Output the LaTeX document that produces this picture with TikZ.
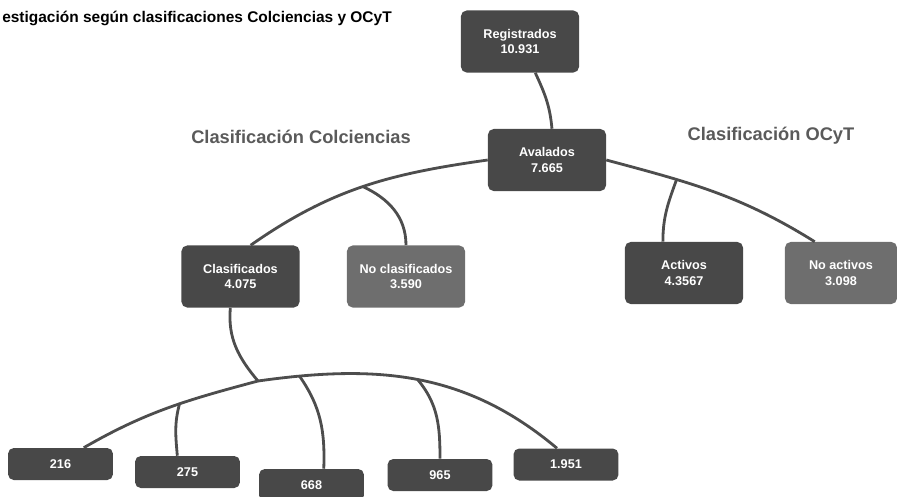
\documentclass[tikz,border=0pt]{standalone}
\usepackage{fontspec}
\setmainfont{Liberation Sans}
\usepackage{tikz}
\usetikzlibrary{positioning,calc}
\definecolor{boxdark}{HTML}{484848}
\definecolor{boxlight}{HTML}{6E6E6E}
\definecolor{linkgray}{HTML}{4D4D4D}
\definecolor{headgray}{HTML}{5A5A5A}

\begin{document}
\begin{tikzpicture}[x=0.025cm, y=0.025cm,
  box/.style={rectangle, rounded corners=4pt, fill=#1, text=white,
    minimum width=2.95cm, minimum height=1.55cm, align=center,
    font=\bfseries\fontsize{9}{10.8}\selectfont, inner sep=2pt},
  numbox/.style={box=boxdark, minimum width=2.62cm, minimum height=0.8cm},
  link/.style={draw=linkgray, line width=2pt},
  heading/.style={font=\bfseries\fontsize{13}{15}\selectfont, text=headgray}
]
\useasboundingbox (0,0) rectangle (897,-496);
\node[anchor=west, inner sep=0pt, font=\bfseries\fontsize{11}{13}\selectfont] (title) at (2,-18) {estigación según clasificaciones Colciencias y OCyT};
\node[heading] (hcol) at (301,-137) {Clasificación Colciencias};
\node[heading] (hocyt) at (771,-136) {Clasificación OCyT};

\node[box=boxdark] (reg) at (520,-41.5) {Registrados\\10.931};
\node[box=boxdark] (ava) at (547,-160) {Avalados\\7.665};
\node[box=boxdark] (cla) at (240.5,-276.5) {Clasificados\\4.075};
\node[box=boxlight] (nocla) at (406,-276.5) {No clasificados\\3.590};
\node[box=boxdark] (act) at (684,-273) {Activos\\4.3567};
\node[box=boxlight, minimum width=2.8cm] (noact) at (841,-273) {No activos\\3.098};

\node[numbox] (n216) at (60.5,-464) {216};
\node[numbox] (n275) at (187.5,-472) {275};
\node[numbox] (n668) at (311.5,-485) {668};
\node[numbox] (n965) at (440,-475) {965};
\node[numbox] (n1951) at (566,-464.5) {1.951};

% conectores
\draw[link] (reg.-64) to[out=-65,in=95] (ava.81);
\draw[link] (ava.west) to[out=188,in=35] coordinate[pos=0.5] (bcla) (cla.72);
\draw[link] (bcla) to[out=-25,in=90] (nocla.north);
\draw[link] (ava.east) to[out=-15,in=148] coordinate[pos=0.31] (bact) (noact.130);
\draw[link] (bact) to[out=-110,in=90] (act.124);

\coordinate (hub) at (258,-381);
\draw[link] (cla.-108) to[out=-95,in=130] (hub);
\draw[link] (hub) to[out=195,in=30] coordinate[pos=0.43] (b275) (n216.35);
\draw[link] (hub) to[out=8,in=140] coordinate[pos=0.12] (b668) coordinate[pos=0.5] (b965) (n1951.119);
\draw[link] (b275) to[out=-105,in=95] (n275.122);
\draw[link] (b668) to[out=-55,in=88] (n668.53);
\draw[link] (b965) to[out=-50,in=90] (n965.north);
\end{tikzpicture}
\end{document}
